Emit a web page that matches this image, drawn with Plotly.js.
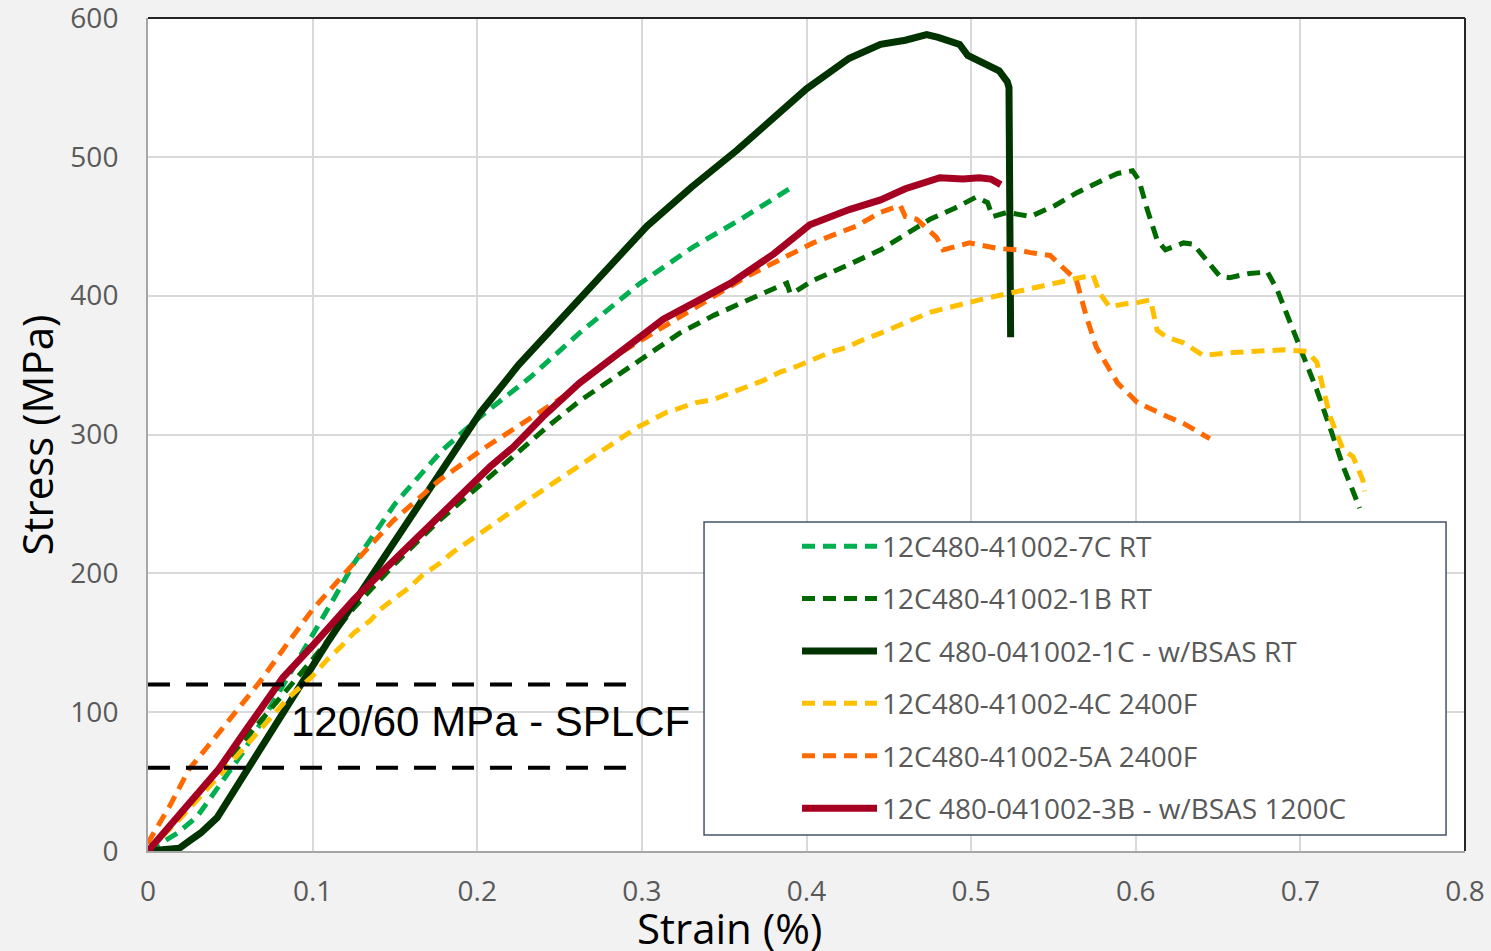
<!DOCTYPE html>
<html>
<head>
<meta charset="utf-8">
<script src="https://cdn.plot.ly/plotly-3.0.1.min.js"></script>
<style>html,body{margin:0;padding:0;background:#f2f2f2;}#chart{width:1491px;height:951px;}</style>
</head>
<body>
<div id="chart"></div>
<script>
// ---- Data (strain %, stress MPa) ----
const names = [
  "12C480-41002-7C RT",
  "12C480-41002-1B RT",
  "12C 480-041002-1C - w/BSAS RT",
  "12C480-41002-4C 2400F",
  "12C480-41002-5A 2400F",
  "12C 480-041002-3B - w/BSAS 1200C"
];

const x7C = [0, 0.01, 0.018, 0.03, 0.041, 0.049, 0.057, 0.07, 0.085, 0.1, 0.112, 0.125, 0.137, 0.15, 0.164, 0.179, 0.202, 0.232, 0.262, 0.299, 0.331, 0.36, 0.391];
const y7C = [0, 7, 13, 25, 43, 56, 70, 95, 125, 155, 180, 207, 228, 250, 269, 289, 313, 341, 373, 409, 435, 455, 478];

const x1B = [0, 0.02, 0.04, 0.06, 0.08, 0.1, 0.125, 0.15, 0.175, 0.2, 0.222, 0.242, 0.262, 0.283, 0.303, 0.323, 0.344, 0.364, 0.38, 0.388, 0.39, 0.392, 0.404, 0.425, 0.445, 0.46, 0.475, 0.49, 0.503, 0.51, 0.513, 0.522, 0.536, 0.551, 0.564, 0.576, 0.589, 0.598, 0.602, 0.607, 0.613, 0.618, 0.629, 0.635, 0.643, 0.651, 0.657, 0.669, 0.68, 0.686, 0.694, 0.702, 0.71, 0.718, 0.726, 0.736];
const y1B = [0, 27, 55, 82, 110, 138, 175, 207, 236, 262, 285, 305, 324, 341, 357, 373, 386, 397, 405, 409, 402, 402, 411, 422, 433, 444, 455, 463, 471, 467, 457, 460, 457, 465, 474, 481, 488, 490, 483, 462, 440, 433, 438, 437, 426, 414, 413, 416, 417, 404, 380, 356, 332, 305, 277, 247];

const x1C = [0, 0.01, 0.019, 0.026, 0.032, 0.042, 0.056, 0.07, 0.084, 0.094, 0.11, 0.127, 0.142, 0.157, 0.18, 0.202, 0.225, 0.252, 0.278, 0.303, 0.33, 0.358, 0.38, 0.4, 0.426, 0.445, 0.46, 0.473, 0.48, 0.493, 0.498, 0.505, 0.511, 0.517, 0.522, 0.523, 0.524];
const y1C = [0, 1, 2, 8, 13, 24, 51, 78, 104, 122, 152, 182, 210, 236, 277, 316, 350, 385, 418, 450, 478, 505, 528, 549, 571, 581, 584, 588, 586, 581, 573, 569, 566, 562, 554, 550, 370];

const x4C = [0, 0.02, 0.047, 0.07, 0.085, 0.1, 0.109, 0.117, 0.125, 0.135, 0.141, 0.151, 0.159, 0.167, 0.177, 0.185, 0.196, 0.206, 0.23, 0.255, 0.279, 0.287, 0.297, 0.307, 0.315, 0.323, 0.333, 0.343, 0.352, 0.364, 0.374, 0.384, 0.394, 0.404, 0.414, 0.425, 0.434, 0.445, 0.475, 0.505, 0.536, 0.562, 0.574, 0.578, 0.584, 0.593, 0.601, 0.609, 0.613, 0.619, 0.629, 0.641, 0.659, 0.69, 0.704, 0.71, 0.718, 0.726, 0.732, 0.738, 0.739];
const y4C = [0, 24, 59, 90, 110, 126, 138, 147, 157, 166, 174, 183, 190, 199, 207, 215, 224, 233, 252, 272, 291, 298, 305, 311, 316, 319, 323, 325, 329, 334, 339, 345, 349, 354, 359, 363, 368, 373, 388, 397, 405, 411, 415, 402, 392, 394, 395, 397, 375, 370, 366, 357, 359, 361, 360, 352, 313, 289, 284, 267, 259];

const x5A = [0, 0.001, 0.013, 0.025, 0.045, 0.068, 0.085, 0.1, 0.121, 0.149, 0.177, 0.204, 0.23, 0.252, 0.283, 0.323, 0.364, 0.404, 0.43, 0.445, 0.457, 0.46, 0.467, 0.479, 0.483, 0.499, 0.516, 0.528, 0.536, 0.548, 0.56, 0.564, 0.57, 0.576, 0.589, 0.601, 0.619, 0.629, 0.645];
const y5A = [5, 8, 32, 59, 88, 122, 150, 174, 202, 238, 267, 290, 310, 327, 356, 385, 414, 438, 450, 460, 465, 457, 455, 442, 433, 438, 434, 433, 431, 429, 415, 411, 385, 363, 337, 323, 313, 308, 297];

const x3B = [0, 0.02, 0.043, 0.06, 0.082, 0.1, 0.125, 0.143, 0.16, 0.177, 0.208, 0.222, 0.24, 0.262, 0.29, 0.313, 0.335, 0.354, 0.38, 0.402, 0.426, 0.445, 0.46, 0.469, 0.481, 0.495, 0.505, 0.512, 0.518];
const y3B = [0, 27, 59, 88, 125, 148, 181, 202, 222, 241, 277, 291, 313, 337, 363, 383, 397, 409, 430, 451, 462, 469, 477, 481, 485, 484, 485, 484, 480];

// SPLCF threshold lines
const thrX = [0, 0.2916];
const thr120 = [120, 120];
const thr60 = [60, 60];

const xTicks = [0, 0.1, 0.2, 0.3, 0.4, 0.5, 0.6, 0.7, 0.8];
const yTicks = [0, 100, 200, 300, 400, 500, 600];

const colors = ["#00b050", "#006a00", "#003300", "#ffc000", "#ff6a00", "#a50021"];

const dashPat = "13px,8px";
function tr(x, y, i, solid) {
  return {
    x: x, y: y, type: "scatter", mode: "lines", name: names[i],
    legendgroup: "g" + i,
    line: {color: colors[i], width: solid ? 7 : 5, dash: solid ? "solid" : dashPat}
  };
}

const data = [
  tr(x7C, y7C, 0, false),
  tr(x1B, y1B, 1, false),
  tr(x1C, y1C, 2, true),
  tr(x4C, y4C, 3, false),
  tr(x5A, y5A, 4, false),
  tr(x3B, y3B, 5, true),
  {x: thrX, y: thr120, type: "scatter", mode: "lines", showlegend: false, hoverinfo: "skip",
   line: {color: "#000000", width: 4, dash: "22px,16px"}},
  {x: thrX, y: thr60, type: "scatter", mode: "lines", showlegend: false, hoverinfo: "skip",
   line: {color: "#000000", width: 4, dash: "22px,16px"}}
];

const tickFont = {family: "Open Sans, Noto Sans, sans-serif", size: 28, color: "#595959"};

const layout = {
  width: 1491, height: 951,
  margin: {l: 148, r: 26, t: 18, b: 100, pad: 0},
  paper_bgcolor: "#f2f2f2",
  plot_bgcolor: "#ffffff",
  showlegend: true,
  xaxis: {
    range: [0, 0.8], tickvals: xTicks, ticktext: xTicks.map(String),
    showgrid: true, gridcolor: "#d9d9d9", gridwidth: 2, zeroline: false,
    showline: true, linecolor: "#a6a6a6", linewidth: 2,
    ticks: "", tickfont: tickFont, ticklabelstandoff: 14, ticklabeloverflow: "allow", fixedrange: true
  },
  yaxis: {
    range: [0, 600], tickvals: yTicks, ticktext: yTicks.map(String),
    showgrid: true, gridcolor: "#d9d9d9", gridwidth: 2, zeroline: false,
    showline: true, linecolor: "#a6a6a6", linewidth: 2,
    ticks: "", tickfont: tickFont, ticklabelstandoff: 22, ticklabeloverflow: "allow", fixedrange: true
  },
  legend: {
    x: 0.4928, y: 0.3956, xanchor: "left", yanchor: "top",
    bgcolor: "rgba(0,0,0,0)", borderwidth: 0,
    font: {family: "Open Sans, Noto Sans, sans-serif", size: 28, color: "#595959"},
    itemwidth: 75, tracegroupgap: 13, traceorder: "grouped"
  },
  shapes: [
    {type: "line", xref: "paper", yref: "paper", x0: 0, x1: 1, y0: 1, y1: 1, line: {color: "#262626", width: 2}},
    {type: "line", xref: "paper", yref: "paper", x0: 1, x1: 1, y0: 0, y1: 1, line: {color: "#262626", width: 2}},
    {type: "rect", xref: "paper", yref: "paper", x0: 0.4222, x1: 0.9856, y0: 0.0192, y1: 0.395,
     fillcolor: "#ffffff", line: {color: "#44546a", width: 1.5}, layer: "above"}
  ],
  annotations: [
    {text: "120/60 MPa - SPLCF", xref: "x", yref: "y", x: 0.0855, y: 93, xanchor: "left", yanchor: "middle",
     showarrow: false, font: {family: "Liberation Sans, Arial, sans-serif", size: 42, color: "#000000"}},
    {text: "Stress (MPa)", xref: "paper", yref: "paper", x: -0.0843, y: 0.5, xanchor: "center", yanchor: "middle",
     textangle: -90, showarrow: false, font: {family: "Open Sans, Noto Sans, sans-serif", size: 42, color: "#000000"}},
    {text: "Strain (%)", xref: "paper", yref: "paper", x: 0.4419, y: -0.0924, xanchor: "center", yanchor: "middle",
     showarrow: false, font: {family: "Open Sans, Noto Sans, sans-serif", size: 42, color: "#000000"}}
  ]
};

Plotly.newPlot("chart", data, layout, {displayModeBar: false, staticPlot: true});
</script>
</body>
</html>
